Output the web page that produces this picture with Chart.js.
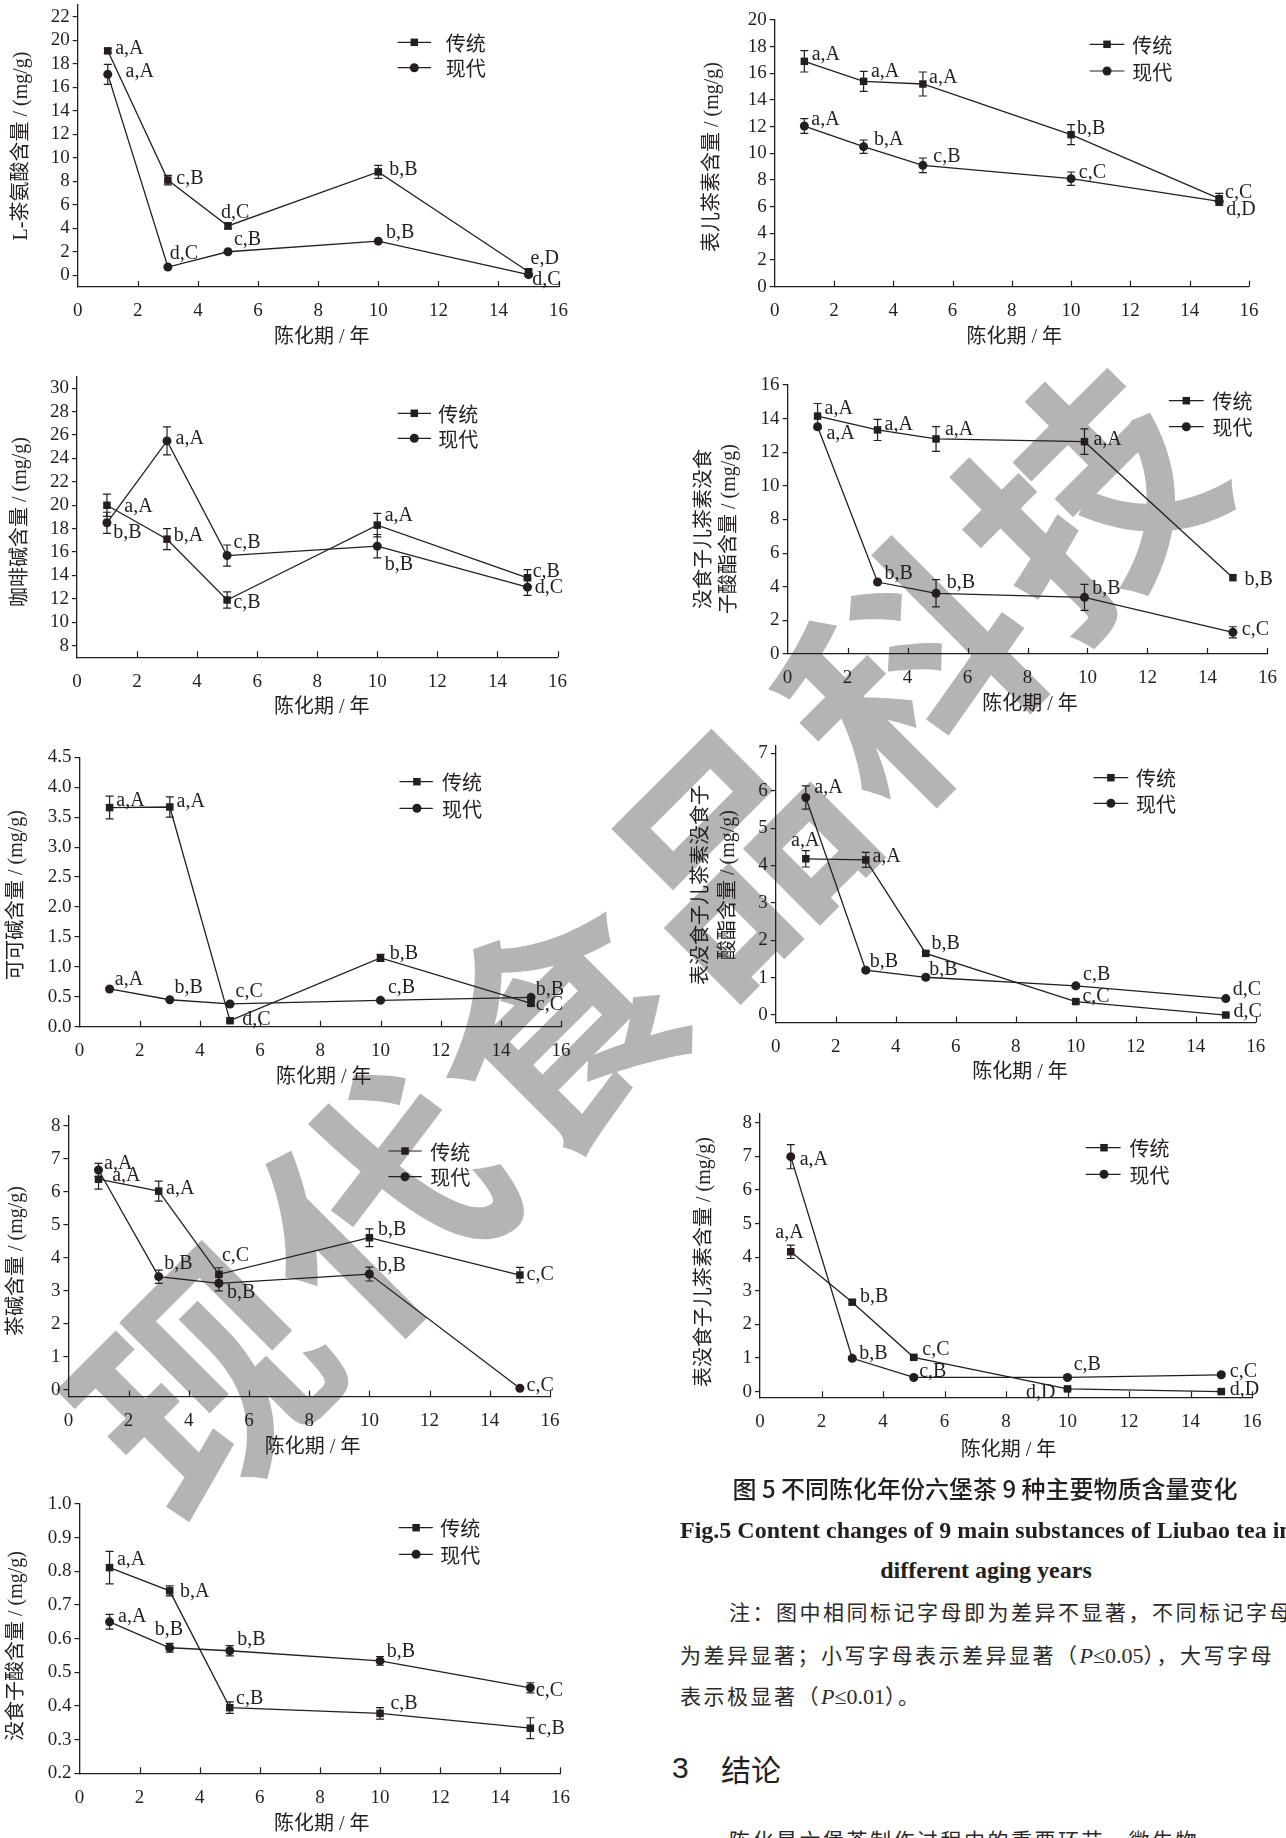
<!DOCTYPE html>
<html><head><meta charset="utf-8">
<script src="https://cdn.jsdelivr.net/npm/chart.js@4.4.1/dist/chart.umd.min.js"></script>
<style>
html,body{margin:0;padding:0;background:#fff;}
body{width:1286px;height:1838px;position:relative;overflow:hidden;}
canvas{position:absolute;z-index:2;}
#wm{position:absolute;left:640px;top:928px;transform:translate(-50%,-50%) rotate(-45deg);font:700 240px "Noto Sans CJK SC";color:#b4b4b4;white-space:nowrap;letter-spacing:10px;line-height:1;z-index:1;}
.t{position:absolute;white-space:nowrap;color:#231f20;z-index:3;line-height:1;}
.cn{font-family:"Noto Sans CJK SC";}
.sr{font-family:"Liberation Serif";letter-spacing:0;font-size:22px;}
</style></head><body>
<div id="wm">现代食品科技</div>

<div class="t cn" style="left:985px;top:1476px;transform:translateX(-50%);font-size:24px;font-weight:500;">图 5 不同陈化年份六堡茶 9 种主要物质含量变化</div>
<div class="t" style="left:680px;top:1518px;font-size:24px;font-weight:700;font-family:'Liberation Serif';">Fig.5 Content changes of 9 main substances of Liubao tea in</div>
<div class="t" style="left:986px;top:1558px;transform:translateX(-50%);font-size:24px;font-weight:700;font-family:'Liberation Serif';">different aging years</div>
<div class="t cn" style="left:729px;top:1601px;font-size:21px;letter-spacing:2.5px;color:#2a2a2a;">注：图中相同标记字母即为差异不显著，不同标记字母</div>
<div class="t cn" style="left:680px;top:1644px;font-size:21px;letter-spacing:2.5px;color:#2a2a2a;">为差异显著；小写字母表示差异显著（<i class="sr">P</i><span class="sr">≤0.05</span>），大写字母</div>
<div class="t cn" style="left:680px;top:1685px;font-size:21px;letter-spacing:2.5px;color:#2a2a2a;">表示极显著（<i class="sr">P</i><span class="sr">≤0.01</span>）。</div>
<div class="t" style="left:672px;top:1753px;font-size:30px;font-family:'Liberation Sans';">3</div>
<div class="t cn" style="left:721px;top:1753px;font-size:30px;">结论</div>
<div class="t cn" style="left:729px;top:1829px;font-size:21px;letter-spacing:2.5px;color:#2a2a2a;">陈化是六堡茶制作过程中的重要环节，微生物</div>

<script>
// ---------- data ----------
const years = [1, 3, 5, 10, 15];
const yearsGCG = [1, 3, 4.95, 9.9, 14.85];
const xTickValues = [0, 2, 4, 6, 8, 10, 12, 14, 16];
const seriesNames = ['传统', '现代'];

// L-茶氨酸
const theanineTrad = [19.1, 8.1, 4.2, 8.8, 0.3];
const theanineTradErr = [0.2, 0.4, 0.25, 0.55, 0.15];
const theanineMod = [17.1, 0.7, 2.0, 2.9, 0.05];
const theanineModErr = [0.85, 0.1, 0.1, 0.1, 0.1];
const theanineTradSig = ['a,A', 'c,B', 'd,C', 'b,B', 'e,D'];
const theanineModSig = ['a,A', 'd,C', 'c,B', 'b,B', 'd,C'];
const theanineTicks = [0, 2, 4, 6, 8, 10, 12, 14, 16, 18, 20, 22];

// 表儿茶素
const ecTrad = [16.9, 15.4, 15.2, 11.4, 6.6];
const ecTradErr = [0.8, 0.75, 0.9, 0.75, 0.4];
const ecMod = [12.05, 10.5, 9.1, 8.1, 6.4];
const ecModErr = [0.55, 0.5, 0.55, 0.5, 0.3];
const ecTradSig = ['a,A', 'a,A', 'a,A', 'b,B', 'c,C'];
const ecModSig = ['a,A', 'b,A', 'c,B', 'c,C', 'd,D'];
const ecTicks = [0, 2, 4, 6, 8, 10, 12, 14, 16, 18, 20];

// 咖啡碱
const caffeineTrad = [20.0, 17.1, 11.9, 18.3, 13.8];
const caffeineTradErr = [0.95, 0.9, 0.7, 1.0, 0.7];
const caffeineMod = [18.5, 25.5, 15.7, 16.5, 13.0];
const caffeineModErr = [0.9, 1.2, 0.9, 1.0, 0.7];
const caffeineTradSig = ['a,A', 'b,A', 'c,B', 'a,A', 'c,B'];
const caffeineModSig = ['b,B', 'a,A', 'c,B', 'b,B', 'd,C'];
const caffeineTicks = [8, 10, 12, 14, 16, 18, 20, 22, 24, 26, 28, 30];

// 没食子儿茶素没食子酸酯
const gcgTrad = [14.15, 13.33, 12.79, 12.63, 4.54];
const gcgTradErr = [0.75, 0.63, 0.74, 0.76, 0];
const gcgMod = [13.52, 4.28, 3.61, 3.37, 1.29];
const gcgModErr = [0, 0, 0.81, 0.77, 0.33];
const gcgTradSig = ['a,A', 'a,A', 'a,A', 'a,A', 'b,B'];
const gcgModSig = ['a,A', 'b,B', 'b,B', 'b,B', 'c,C'];
const gcgTicks = [0, 2, 4, 6, 8, 10, 12, 14, 16];

// 可可碱
const theobromineTrad = [3.66, 3.67, 0.10, 1.15, 0.39];
const theobromineTradErr = [0.19, 0.17, 0.02, 0.06, 0.03];
const theobromineMod = [0.63, 0.45, 0.38, 0.44, 0.49];
const theobromineModErr = [0.02, 0.02, 0.02, 0.02, 0.02];
const theobromineTradSig = ['a,A', 'a,A', 'd,C', 'b,B', 'c,C'];
const theobromineModSig = ['a,A', 'b,B', 'c,C', 'c,B', 'b,B'];
const theobromineTicks = [0, 0.5, 1.0, 1.5, 2.0, 2.5, 3.0, 3.5, 4.0, 4.5];

// 表没食子儿茶素没食子酸酯
const egcgTrad = [4.18, 4.15, 1.65, 0.36, 0.0];
const egcgTradErr = [0.22, 0.2, 0.05, 0.05, 0.03];
const egcgMod = [5.82, 1.2, 1.01, 0.78, 0.44];
const egcgModErr = [0.31, 0.05, 0.05, 0.05, 0.03];
const egcgTradSig = ['a,A', 'a,A', 'b,B', 'c,C', 'd,C'];
const egcgModSig = ['a,A', 'b,B', 'b,B', 'c,B', 'd,C'];
const egcgTicks = [0, 1, 2, 3, 4, 5, 6, 7];

// 茶碱
const theophyllineTrad = [6.38, 6.02, 3.5, 4.61, 3.48];
const theophyllineTradErr = [0.3, 0.3, 0.2, 0.27, 0.23];
const theophyllineMod = [6.66, 3.43, 3.23, 3.51, 0.05];
const theophyllineModErr = [0.2, 0.2, 0.23, 0.21, 0.03];
const theophyllineTradSig = ['a,A', 'a,A', 'c,C', 'b,B', 'c,C'];
const theophyllineModSig = ['a,A', 'b,B', 'b,B', 'b,B', 'c,C'];
const theophyllineTicks = [0, 1, 2, 3, 4, 5, 6, 7, 8];

// 表没食子儿茶素
const egcTrad = [4.16, 2.66, 1.02, 0.08, 0.0];
const egcTradErr = [0.2, 0.05, 0.05, 0.03, 0.02];
const egcMod = [6.99, 0.99, 0.42, 0.42, 0.5];
const egcModErr = [0.36, 0.05, 0.05, 0.05, 0.05];
const egcTradSig = ['a,A', 'b,B', 'c,C', 'd,D', 'd,D'];
const egcModSig = ['a,A', 'b,B', 'c,B', 'c,B', 'c,C'];
const egcTicks = [0, 1, 2, 3, 4, 5, 6, 7, 8];

// 没食子酸
const gallicTrad = [0.811, 0.742, 0.395, 0.378, 0.334];
const gallicTradErr = [0.048, 0.015, 0.017, 0.017, 0.031];
const gallicMod = [0.65, 0.573, 0.564, 0.534, 0.454];
const gallicModErr = [0.022, 0.013, 0.015, 0.013, 0.015];
const gallicTradSig = ['a,A', 'b,A', 'c,B', 'c,B', 'c,B'];
const gallicModSig = ['a,A', 'b,B', 'b,B', 'b,B', 'c,C'];
const gallicTicks = [0.2, 0.3, 0.4, 0.5, 0.6, 0.7, 0.8, 0.9, 1.0];

// ---------- layout (page pixel geometry, label offsets) ----------
const panels = [
  { xs: years, trad: theanineTrad, tradErr: theanineTradErr, mod: theanineMod, modErr: theanineModErr,
    tradSig: theanineTradSig, modSig: theanineModSig, yTicks: theanineTicks, dec: 0,
    ymin: -1, ymax: 23, box: [0, -20, 600, 380], axisX: 77.7, x16: 558.6, topY: 5, axisY: 287,
    yTitle: ['L-茶氨酸含量 / (mg/g)'], yTitleX: [22.2], yTitleY: 146, xTitleX: 321.8, xTitleY: 338,
    leg: [42.3, 67.7, 397.7, 431, 414.3, 445.7],
    tradOff: [[7.4,-2.3],[8.5,-1.7],[-7,-13.3],[11,-1.7],[2,-13.3]],
    modOff: [[17.8,-2.3],[2,-13.3],[6,-11.7],[7.8,-8.3],[3.7,5]] },
  { xs: years, trad: ecTrad, tradErr: ecTradErr, mod: ecMod, modErr: ecModErr,
    tradSig: ecTradSig, modSig: ecModSig, yTicks: ecTicks, dec: 0,
    ymin: 0, ymax: 20, box: [660, -20, 626, 380], axisX: 774.7, x16: 1248.9, topY: 20, axisY: 286.7,
    yTitle: ['表儿茶素含量 / (mg/g)'], yTitleX: [712.9], yTitleY: 157, xTitleX: 1014.3, xTitleY: 338,
    leg: [44.3, 71, 1089.7, 1124.4, 1107, 1132.2],
    tradOff: [[7.3,-6.7],[7.3,-10],[6.2,-6.7],[5.8,-6],[5.8,-5.7]],
    modOff: [[7,-6],[10.4,-6.7],[10.4,-9],[7.7,-6.3],[7,8.3]] },
  { xs: years, trad: caffeineTrad, tradErr: caffeineTradErr, mod: caffeineMod, modErr: caffeineModErr,
    tradSig: caffeineTradSig, modSig: caffeineModSig, yTicks: caffeineTicks, dec: 0,
    ymin: 7, ymax: 31, box: [0, 355, 600, 375], axisX: 76.9, x16: 557.5, topY: 376.6, axisY: 657.3,
    yTitle: ['咖啡碱含量 / (mg/g)'], yTitleX: [20.3], yTitleY: 522, xTitleX: 321.8, xTitleY: 708,
    leg: [413.3, 438.3, 397.7, 431, 414.3, 438.3],
    tradOff: [[17.4,1],[6.7,-3.3],[6.3,3],[7.4,-9.3],[5.2,-6.3]],
    modOff: [[6.3,9.7],[8.5,-2],[6.3,-12.7],[7.4,18.3],[7.4,1]] },
  { xs: yearsGCG, trad: gcgTrad, tradErr: gcgTradErr, mod: gcgMod, modErr: gcgModErr,
    tradSig: gcgTradSig, modSig: gcgModSig, yTicks: gcgTicks, dec: 0,
    ymin: 0, ymax: 16, box: [660, 355, 626, 375], axisX: 787.6, x16: 1267.4, topY: 385, axisY: 654,
    yTitle: ['没食子儿茶素没食', '子酸酯含量 / (mg/g)'], yTitleX: [705, 730], yTitleY: 529, xTitleX: 1030, xTitleY: 705,
    leg: [400.7, 426.7, 1168.9, 1203.7, 1186.3, 1212.6],
    tradOff: [[7,-7.7],[7,-5],[8.9,-9],[8.9,-2.3],[11.6,1.7]],
    modOff: [[8.9,6.7],[7,-8.7],[10.8,-11],[7.7,-9],[8.9,-2.3]] },
  { xs: years, trad: theobromineTrad, tradErr: theobromineTradErr, mod: theobromineMod, modErr: theobromineModErr,
    tradSig: theobromineTradSig, modSig: theobromineModSig, yTicks: theobromineTicks, dec: 1,
    ymin: 0, ymax: 4.5, box: [0, 730, 600, 370], axisX: 79.5, x16: 561.1, topY: 757.3, axisY: 1026.7,
    yTitle: ['可可碱含量 / (mg/g)'], yTitleX: [16.6], yTitleY: 895, xTitleX: 323.7, xTitleY: 1078,
    leg: [781.7, 808.3, 399.5, 432.8, 416.9, 442],
    tradOff: [[6.7,-6.7],[6.7,-5.3],[12.2,-0.7],[9.2,-4.3],[4.8,1.7]],
    modOff: [[5.2,-9.7],[4.8,-11.7],[5.5,-12.3],[7.4,-12.3],[4.8,-8]] },
  { xs: years, trad: egcgTrad, tradErr: egcgTradErr, mod: egcgMod, modErr: egcgModErr,
    tradSig: egcgTradSig, modSig: egcgModSig, yTicks: egcgTicks, dec: 0,
    ymin: -0.2, ymax: 7.2, box: [660, 730, 626, 370], axisX: 775.8, x16: 1255.8, topY: 745.9, axisY: 1022.5,
    yTitle: ['表没食子儿茶素没食子', '酸酯含量 / (mg/g)'], yTitleX: [701.3, 728.3], yTitleY: 885, xTitleX: 1020, xTitleY: 1073,
    leg: [777.7, 803.3, 1093.5, 1128.3, 1110.9, 1136],
    tradOff: [[-14.7,-18.3],[6.6,-2.7],[5.8,-10],[6.6,-5],[7.7,-3.7]],
    modOff: [[8.5,-9.7],[3.9,-8.3],[3.5,-7.3],[7.3,-11],[7,-8.7]] },
  { xs: years, trad: theophyllineTrad, tradErr: theophyllineTradErr, mod: theophyllineMod, modErr: theophyllineModErr,
    tradSig: theophyllineTradSig, modSig: theophyllineModSig, yTicks: theophyllineTicks, dec: 0,
    ymin: -0.2, ymax: 8.3, box: [0, 1100, 600, 370], axisX: 68.4, x16: 550, topY: 1115.8, axisY: 1396.6,
    yTitle: ['茶碱含量 / (mg/g)'], yTitleX: [16.6], yTitleY: 1261, xTitleX: 312.6, xTitleY: 1448,
    leg: [1151, 1176.7, 388.4, 421.7, 405, 430.2],
    tradOff: [[13.7,-3.7],[7.4,-2.7],[3,-18.7],[8.5,-7.7],[6.7,0]],
    modOff: [[5.5,-6.7],[5.5,-12.7],[8.1,9.3],[8.1,-8.3],[6.7,-2.3]] },
  { xs: years, trad: egcTrad, tradErr: egcTradErr, mod: egcMod, modErr: egcModErr,
    tradSig: egcTradSig, modSig: egcModSig, yTicks: egcTicks, dec: 0,
    ymin: -0.17, ymax: 8.28, box: [660, 1100, 626, 370], axisX: 760, x16: 1252, topY: 1113.3, axisY: 1397.3,
    yTitle: ['表没食子儿茶素含量 / (mg/g)'], yTitleX: [705.1], yTitleY: 1262, xTitleX: 1008.5, xTitleY: 1450.7,
    leg: [1147.7, 1174.3, 1085.8, 1120.6, 1104, 1129.5],
    tradOff: [[-15.5,-19.3],[7.7,-5],[8.5,-8],[-41.4,4.3],[8.5,-2.3]],
    modOff: [[8.9,2.7],[7,-5],[5.4,-6],[6.2,-12.7],[8.5,-3.3]] },
  { xs: years, trad: gallicTrad, tradErr: gallicTradErr, mod: gallicMod, modErr: gallicModErr,
    tradSig: gallicTradSig, modSig: gallicModSig, yTicks: gallicTicks, dec: 1,
    ymin: 0.2, ymax: 1.0, box: [0, 1480, 600, 358], axisX: 79.5, x16: 560.4, topY: 1504, axisY: 1773.3,
    yTitle: ['没食子酸含量 / (mg/g)'], yTitleX: [16.6], yTitleY: 1646, xTitleX: 321.8, xTitleY: 1825,
    leg: [1527.7, 1554.3, 398.8, 432.8, 416.1, 440.2],
    tradOff: [[7.4,-7.7],[10.4,0.7],[6.3,-8.7],[10.4,-10],[7.4,0.7]],
    modOff: [[8.5,-5],[-14.8,-17.7],[7.4,-10.7],[6.7,-8.7],[5.5,3.3]] }
];

// ---------- style ----------
const INK = '#231f20';
const SERIF = '"Liberation Serif", "Times New Roman", serif';
const MIXED = '"Liberation Serif", "Noto Sans CJK SC", serif';
const SQ = 5.3, CR = 4.5;

function drawMarker(ctx, style, x, y) {
  ctx.beginPath();
  if (style === 'rect') {
    const h = SQ * Math.SQRT1_2;
    ctx.rect(x - h, y - h, 2 * h, 2 * h);
  } else {
    ctx.arc(x, y, CR, 0, Math.PI * 2);
  }
  ctx.fill();
}

function makePlugin(p) {
  const [cl, ct] = p.box;
  return {
    id: 'panelDecor',
    afterDatasetsDraw(chart) {
      const ctx = chart.ctx;
      const ys = chart.scales.y, xs = chart.scales.x, area = chart.chartArea;
      ctx.save();
      ctx.strokeStyle = INK; ctx.fillStyle = INK; ctx.lineWidth = 1.2;
      // inward x ticks
      xs.ticks.forEach(t => {
        if (t.value === 0) return;
        const x = Math.round(xs.getPixelForValue(t.value)) + 0.5;
        ctx.beginPath(); ctx.moveTo(x, area.bottom); ctx.lineTo(x, area.bottom - 6); ctx.stroke();
      });
      // error bars
      const errs = [p.tradErr, p.modErr];
      const vals = [p.trad, p.mod];
      [0, 1].forEach(di => {
        const meta = chart.getDatasetMeta(di);
        meta.data.forEach((pt, j) => {
          const e = errs[di][j];
          if (!e) return;
          const y1 = ys.getPixelForValue(vals[di][j] + e);
          const y2 = ys.getPixelForValue(vals[di][j] - e);
          const x = pt.x;
          ctx.beginPath();
          ctx.moveTo(x, y1); ctx.lineTo(x, y2);
          ctx.moveTo(x - 4, y1); ctx.lineTo(x + 4, y1);
          ctx.moveTo(x - 4, y2); ctx.lineTo(x + 4, y2);
          ctx.stroke();
        });
      });
      // significance labels
      ctx.font = '20px ' + SERIF;
      ctx.textAlign = 'left'; ctx.textBaseline = 'middle';
      const sigs = [p.tradSig, p.modSig], offs = [p.tradOff, p.modOff];
      [0, 1].forEach(di => {
        const meta = chart.getDatasetMeta(di);
        meta.data.forEach((pt, j) => {
          ctx.fillText(sigs[di][j], pt.x + offs[di][j][0], pt.y + offs[di][j][1]);
        });
      });
      // legend
      const [y1, y2, lx1, lx2, mx, tx] = p.leg;
      ctx.font = '20px "Noto Sans CJK SC"';
      [[y1, 'rect'], [y2, 'circle']].forEach(([ly, st], i) => {
        const y = ly - ct;
        ctx.beginPath(); ctx.moveTo(lx1 - cl, y); ctx.lineTo(lx2 - cl, y); ctx.stroke();
        drawMarker(ctx, st, mx - cl, y);
        ctx.fillText(seriesNames[i], tx - cl, y + 1);
      });
      // axis titles
      ctx.font = '20px ' + MIXED;
      ctx.textAlign = 'center';
      ctx.fillText('陈化期 / 年', p.xTitleX - cl, p.xTitleY - ct);
      p.yTitle.forEach((txt, i) => {
        ctx.save();
        ctx.translate(p.yTitleX[i] - cl, p.yTitleY - ct);
        ctx.rotate(-Math.PI / 2);
        ctx.fillText(txt, 0, 0);
        ctx.restore();
      });
      ctx.restore();
    }
  };
}

function buildPanel(p) {
  const [cl, ct, cw, ch] = p.box;
  const canvas = document.createElement('canvas');
  canvas.width = cw; canvas.height = ch;
  canvas.style.left = cl + 'px'; canvas.style.top = ct + 'px';
  canvas.style.width = cw + 'px'; canvas.style.height = ch + 'px';
  document.body.appendChild(canvas);
  const L = p.axisX - cl, R = cl + cw - p.x16, T = p.topY - ct, B = ct + ch - p.axisY;
  const mk = (vals, name, style, r) => ({
    label: name,
    data: p.xs.map((x, i) => ({ x: x, y: vals[i] })),
    borderColor: INK, backgroundColor: INK, borderWidth: 1.3,
    pointStyle: style, pointRadius: r, pointBackgroundColor: INK, pointBorderColor: INK,
    pointBorderWidth: 0, tension: 0, fill: false, clip: false
  });
  new Chart(canvas, {
    type: 'line',
    data: { datasets: [mk(p.trad, seriesNames[0], 'rect', SQ), mk(p.mod, seriesNames[1], 'circle', CR)] },
    options: {
      responsive: false, animation: false, devicePixelRatio: 1,
      layout: { padding: { left: 0, top: T, right: R, bottom: 0 } },
      plugins: { legend: { display: false }, tooltip: { enabled: false } },
      scales: {
        x: {
          type: 'linear', min: 0, max: 16,
          afterBuildTicks: a => { a.ticks = xTickValues.map(v => ({ value: v })); },
          afterFit: s => { s.height = B; s.paddingLeft = 0; s.paddingRight = 0; },
          grid: { display: false },
          border: { display: true, color: INK, width: 1.3 },
          ticks: { color: INK, font: { family: SERIF, size: 19 }, padding: 5, maxRotation: 0, autoSkip: false }
        },
        y: {
          type: 'linear', min: p.ymin, max: p.ymax,
          afterBuildTicks: a => { a.ticks = p.yTicks.map(v => ({ value: v })); },
          afterFit: s => { s.width = L; s.paddingTop = 0; s.paddingBottom = 0; },
          grid: { display: true, drawOnChartArea: false, drawTicks: true, tickLength: 5, color: INK, lineWidth: 1.2 },
          border: { display: true, color: INK, width: 1.3 },
          ticks: { color: INK, font: { family: SERIF, size: 19 }, padding: 3, autoSkip: false,
                   callback: v => Number(v).toFixed(p.dec) }
        }
      }
    },
    plugins: [makePlugin(p)]
  });
}

panels.forEach(buildPanel);
</script>
</body></html>
